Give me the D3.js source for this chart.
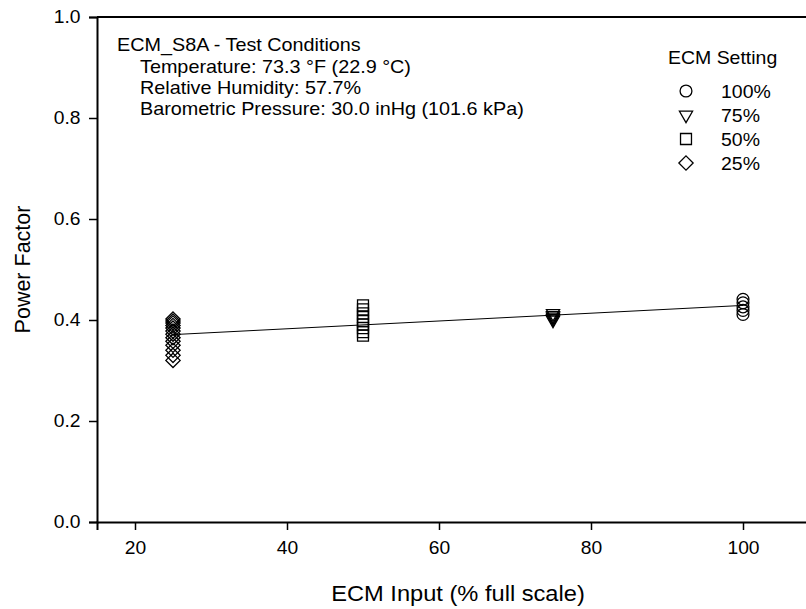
<!DOCTYPE html>
<html lang="en">
<head>
    <meta charset="UTF-8">
    <script src="https://cdn.jsdelivr.net/npm/d3@7"></script>
    <style>
        body { margin: 0; background: #fff; }
        svg { display: block; font-family: "Liberation Sans", Arial, sans-serif; }
    </style>
</head>
<body>
    <svg id="chart" width="806" height="609"></svg>
    <script>
        // ECM input setting (x) and power factor readings (y), one array per setting
        let settings = ["100%", "75%", "50%", "25%"];
        let settingInput = [100, 75, 50, 25];
        let pf100 = [0.411, 0.419, 0.426, 0.434, 0.441];
        let pf75 = [0.400, 0.403, 0.406, 0.409, 0.413];
        let pf50 = [0.369, 0.376, 0.384, 0.391, 0.398, 0.406, 0.413, 0.421, 0.429];
        let pf25 = [0.320, 0.330, 0.340, 0.350, 0.358, 0.365, 0.372, 0.378, 0.384, 0.389, 0.394, 0.398, 0.402];
        let xTicks = [20, 40, 60, 80, 100];
        let yTicks = [0.0, 0.2, 0.4, 0.6, 0.8, 1.0];
        let noteLines = ["Temperature: 73.3 °F (22.9 °C)", "Relative Humidity: 57.7%", "Barometric Pressure: 30.0 inHg (101.6 kPa)"];

        let svg = d3.select("#chart");
        let plotLeft = 97, plotTop = 17, plotBottom = 522;
        let stretch = 1.1; // the original figure text is a little wide

        let x = d3.scaleLinear().domain([15, 110]).range([plotLeft, 819]);
        let y = d3.scaleLinear().domain([0, 1]).range([plotBottom, plotTop]);

        let series = [pf100, pf75, pf50, pf25];
        let symbols = [d3.symbolCircle, d3.symbolTriangle, d3.symbolSquare, d3.symbolDiamond2];
        let symSizes = [110, 75, 120, 130];

        let points = [];
        series.forEach((vals, i) => {
            vals.forEach(v => points.push({ x: settingInput[i], y: v, s: i }));
        });

        function addText(parent, tx, ty, size, str, anchor) {
            return parent.append("text")
                .attr("transform", "translate(" + tx + "," + ty + ") scale(" + stretch + ",1)")
                .attr("font-size", size)
                .attr("text-anchor", anchor || "start")
                .attr("fill", "#000")
                .text(str);
        }

        // axes
        let xAxis = svg.append("g")
            .attr("transform", "translate(0," + plotBottom + ")")
            .call(d3.axisBottom(x).tickValues(xTicks).tickSizeOuter(0).tickSize(8).tickPadding(12).tickFormat(d3.format("d")));
        let yAxis = svg.append("g")
            .attr("transform", "translate(" + plotLeft + ",0)")
            .call(d3.axisLeft(y).tickValues(yTicks).tickSizeOuter(0).tickSize(8).tickPadding(7).tickFormat(d3.format(".1f")));

        [xAxis, yAxis].forEach(a => {
            a.select(".domain").attr("stroke", "#000").attr("stroke-width", 2);
            a.selectAll(".tick line").attr("stroke", "#000").attr("stroke-width", 1.5);
            a.selectAll(".tick text").attr("font-size", 17.5).attr("fill", "#000")
                .attr("font-family", "Liberation Sans, Arial, sans-serif")
                .attr("transform", "scale(" + stretch + ",1)");
        });

        // top frame line
        svg.append("line")
            .attr("x1", plotLeft).attr("x2", x.range()[1])
            .attr("y1", plotTop).attr("y2", plotTop)
            .attr("stroke", "#000").attr("stroke-width", 2);

        // least squares fit across all points
        let mx = d3.mean(points, d => d.x), my = d3.mean(points, d => d.y);
        let sxy = d3.sum(points, d => (d.x - mx) * (d.y - my));
        let sxx = d3.sum(points, d => (d.x - mx) * (d.x - mx));
        let slope = sxy / sxx, icpt = my - slope * mx;
        let xr = d3.extent(points, d => d.x);
        svg.append("line")
            .attr("x1", x(xr[0])).attr("y1", y(icpt + slope * xr[0]))
            .attr("x2", x(xr[1])).attr("y2", y(icpt + slope * xr[1]))
            .attr("stroke", "#000").attr("stroke-width", 1);

        // markers
        svg.append("g").selectAll("path")
            .data(points)
            .join("path")
            .attr("d", d => d3.symbol(symbols[d.s], symSizes[d.s])())
            .attr("transform", d => "translate(" + x(d.x) + "," + y(d.y) + ")" + (d.s === 1 ? " rotate(180)" : ""))
            .attr("fill", "none")
            .attr("stroke", "#000")
            .attr("stroke-width", 1.3);

        // axis titles
        addText(svg, (x.range()[0] + x.range()[1]) / 2, 601, 21.5, "ECM Input (% full scale)", "middle");
        svg.append("text")
            .attr("transform", "translate(30," + (plotTop + plotBottom) / 2 + ") rotate(-90)")
            .attr("text-anchor", "middle")
            .attr("font-size", 21.5)
            .text("Power Factor");

        // test conditions note
        let note = svg.append("g");
        addText(note, 117, 51, 18, "ECM_S8A - Test Conditions");
        noteLines.forEach((t, i) => {
            addText(note, 140, 72.5 + i * 21.3, 18, t);
        });

        // legend
        let legend = svg.append("g");
        addText(legend, 668, 64, 17.7, "ECM Setting");
        settings.forEach((lab, i) => {
            let cy = 91 + i * 24;
            legend.append("path")
                .attr("d", d3.symbol(symbols[i], symSizes[i])())
                .attr("transform", "translate(686," + cy + ")" + (i === 1 ? " rotate(180)" : ""))
                .attr("fill", "none").attr("stroke", "#000").attr("stroke-width", 1.3);
            addText(legend, 721, cy + 6.5, 17.7, lab);
        });
    </script>
</body>
</html>
